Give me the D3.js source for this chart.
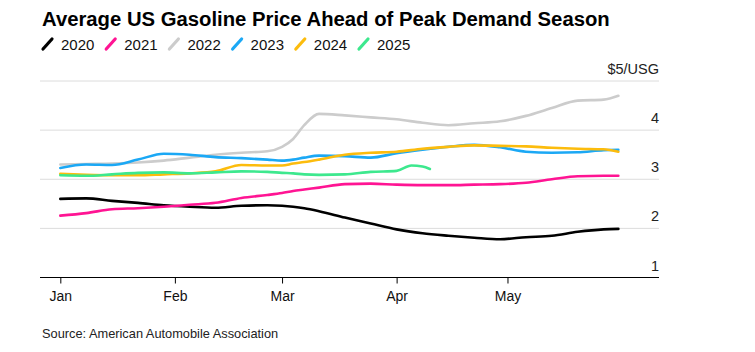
<!DOCTYPE html>
<html>
<head>
<meta charset="utf-8">
<script src="https://cdn.jsdelivr.net/npm/d3@7"></script>
<style>
  body { margin: 0; background: #fff; }
  svg { font-family: "Liberation Sans", Arial, Helvetica, sans-serif; }
</style>
</head>
<body>
<div id="chart"></div>
<script>
// day of year (0 = Jan 1), shared by 2020-2024
var days = [0, 7, 14, 21, 28, 35, 42, 49, 56, 60, 63, 66, 70, 77, 84, 91, 98, 105, 112, 119, 126, 133, 140, 147, 151];
var days2025 = [0, 7, 14, 21, 28, 35, 42, 49, 56, 60, 63, 66, 70, 77, 84, 91, 95, 98, 100];

var y2020 = [2.60, 2.61, 2.56, 2.52, 2.47, 2.44, 2.42, 2.46, 2.47, 2.46, 2.44, 2.41, 2.35, 2.22, 2.10, 1.98, 1.90, 1.85, 1.81, 1.78, 1.82, 1.85, 1.93, 1.98, 1.99];
var y2021 = [2.26, 2.31, 2.39, 2.41, 2.44, 2.48, 2.52, 2.62, 2.68, 2.72, 2.76, 2.79, 2.83, 2.90, 2.91, 2.89, 2.88, 2.88, 2.89, 2.90, 2.93, 3.00, 3.06, 3.07, 3.07];
var y2022 = [3.30, 3.31, 3.32, 3.34, 3.38, 3.44, 3.50, 3.54, 3.57, 3.66, 3.82, 4.10, 4.33, 4.30, 4.26, 4.22, 4.15, 4.10, 4.14, 4.18, 4.29, 4.45, 4.60, 4.62, 4.70];
var y2023 = [3.23, 3.30, 3.29, 3.40, 3.52, 3.50, 3.45, 3.43, 3.40, 3.38, 3.40, 3.44, 3.48, 3.47, 3.44, 3.53, 3.60, 3.66, 3.70, 3.65, 3.56, 3.54, 3.55, 3.59, 3.60];
var y2024 = [3.11, 3.09, 3.08, 3.08, 3.10, 3.12, 3.16, 3.29, 3.28, 3.28, 3.32, 3.35, 3.40, 3.50, 3.54, 3.56, 3.62, 3.66, 3.69, 3.68, 3.67, 3.64, 3.62, 3.61, 3.56];
var y2025 = [3.08, 3.07, 3.10, 3.13, 3.14, 3.12, 3.14, 3.16, 3.15, 3.13, 3.12, 3.10, 3.09, 3.10, 3.15, 3.17, 3.28, 3.26, 3.21];

var years = ["2020", "2021", "2022", "2023", "2024", "2025"];
var colors = ["#000000", "#ff1493", "#cccccc", "#1ba8f5", "#fcbc0d", "#3de88e"];
var seriesValues = [y2020, y2021, y2022, y2023, y2024, y2025];

var monthTicks = [0, 31, 60, 91, 121];
var monthLabels = ["Jan", "Feb", "Mar", "Apr", "May"];
var priceTicks = [1, 2, 3, 4, 5];

var W = 755, H = 352;
var plotLeft = 40, plotRight = 659, plotTop = 81, plotBottom = 277.5;

var svg = d3.select("#chart").append("svg")
    .attr("width", W)
    .attr("height", H);

var x = d3.scaleLinear().domain([-5.5, 162]).range([plotLeft, plotRight]);
var y = d3.scaleLinear().domain([1, 5]).range([plotBottom, plotTop]);

// title
svg.append("text")
  .attr("x", 42).attr("y", 26)
  .attr("font-size", 20.3).attr("font-weight", "bold")
  .attr("fill", "#000")
  .text("Average US Gasoline Price Ahead of Peak Demand Season");

// legend
var legend = svg.append("g").selectAll("g")
  .data(years)
  .enter().append("g")
  .attr("transform", function(d, i) { return "translate(" + (43 + i * 63.2) + ",44)"; });
legend.append("line")
  .attr("x1", 0).attr("y1", 5).attr("x2", 9).attr("y2", -5)
  .attr("stroke", function(d, i) { return colors[i]; })
  .attr("stroke-width", 3.2)
  .attr("stroke-linecap", "round");
legend.append("text")
  .attr("x", 18).attr("y", 5.5)
  .attr("font-size", 15)
  .attr("fill", "#111")
  .text(function(d) { return d; });

// gridlines + right labels
var grid = svg.append("g");
grid.selectAll("line")
  .data(priceTicks.filter(function(d) { return d > 1; }))
  .enter().append("line")
  .attr("x1", plotLeft).attr("x2", plotRight)
  .attr("y1", function(d) { return y(d); })
  .attr("y2", function(d) { return y(d); })
  .attr("stroke", "#dcdcdc")
  .attr("stroke-width", 1);

grid.selectAll("text")
  .data(priceTicks)
  .enter().append("text")
  .attr("x", plotRight)
  .attr("y", function(d) { return y(d) - 7; })
  .attr("text-anchor", "end")
  .attr("font-size", 14.5)
  .attr("fill", "#222")
  .text(function(d) { return d === 5 ? "$5/USG" : d; });

// x axis
var xAxis = svg.append("g")
  .attr("transform", "translate(0," + plotBottom + ")")
  .call(d3.axisBottom(x)
    .tickValues(monthTicks)
    .tickFormat(function(d, i) { return monthLabels[i]; })
    .tickSize(6)
    .tickPadding(8));
xAxis.select(".domain").attr("stroke", "#000").attr("d", "M" + plotLeft + ",0H" + plotRight);
xAxis.selectAll(".tick line").attr("stroke", "#000");
xAxis.selectAll(".tick text")
  .attr("font-size", 14)
  .attr("font-family", "Liberation Sans, Arial, sans-serif")
  .attr("fill", "#111");

// lines
var line = d3.line()
  .x(function(d) { return x(d[0]); })
  .y(function(d) { return y(d[1]); })
  .curve(d3.curveMonotoneX);

svg.append("g").selectAll("path")
  .data(seriesValues.map(function(vals, i) {
    var ds = i === 5 ? days2025 : days;
    return { color: colors[i], pts: vals.map(function(v, j) { return [ds[j], v]; }) };
  }))
  .enter().append("path")
  .attr("d", function(d) { return line(d.pts); })
  .attr("fill", "none")
  .attr("stroke", function(d) { return d.color; })
  .attr("stroke-width", 2.6)
  .attr("stroke-linejoin", "round")
  .attr("stroke-linecap", "round");

// source
svg.append("text")
  .attr("x", 42).attr("y", 338)
  .attr("font-size", 12.8)
  .attr("fill", "#222")
  .text("Source: American Automobile Association");
</script>
</body>
</html>
